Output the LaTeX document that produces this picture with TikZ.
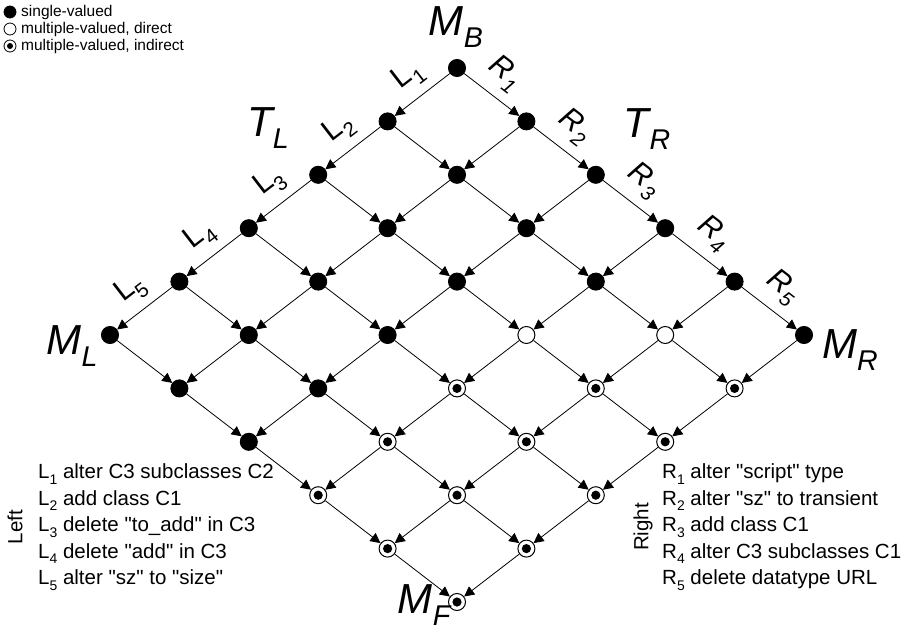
\documentclass[tikz,border=0pt]{standalone}
\usepackage{fontspec}
\setmainfont{Liberation Sans}
\usetikzlibrary{arrows.meta,calc}
\newcommand\lo[1]{\raisebox{-0.28em}{\scalebox{0.68}{#1}}}

\begin{document}
\begin{tikzpicture}[x=1pt,y=-1pt,
  state/.style={circle,draw,line width=1pt,minimum size=17pt,inner sep=0pt},
  kind0/.style={state,fill=black},
  kind1/.style={state,fill=white},
  kind2/.style={state,fill=white,path picture={\fill[black] (path picture bounding box.center) circle (4.6pt);}},
  trans/.style={-{Triangle[length=10pt,width=10pt]},line width=0.8pt},
  biglab/.style={font=\fontsize{42}{42}\selectfont\itshape,inner sep=0pt},
  leftlab/.style={font=\fontsize{30}{30}\selectfont,inner sep=0pt,rotate=37.6},
  rightlab/.style={font=\fontsize{30}{30}\selectfont\itshape,inner sep=0pt,rotate=-37.6},
  keytext/.style={font=\fontsize{15.5}{15.5}\selectfont,anchor=west,inner sep=0pt},
  listtext/.style={font=\fontsize{20.5}{20.5}\selectfont,anchor=west,inner sep=0pt}]
\useasboundingbox (0,0) rectangle (903,632);

% legend
\node[kind0,minimum size=12pt,line width=0.8pt] (k0) at (10,12) {};
\node[kind1,minimum size=12pt,line width=0.8pt] (k1) at (10,29) {};
\node[kind2,minimum size=12pt,line width=0.8pt,path picture={\fill[black] (path picture bounding box.center) circle (3pt);}] (k2) at (10,46) {};
\node[keytext] (k0t) at (21,12) {single-valued};
\node[keytext] (k1t) at (21,29) {multiple-valued, direct};
\node[keytext] (k2t) at (21,46) {multiple-valued, indirect};

% lattice of versions
\foreach \i in {0,...,5}
  \foreach \j in {0,...,5}{
    \pgfmathtruncatemacro\k{(\i+\j<5)?0:((\i+\j==5)?((\j==3||\j==4)?1:0):((\j>2)?2:0))}
    \node[kind\k] (n\i\j) at ({457+69.4*(\j-\i)},{68+53.4*(\i+\j)}) {};
  }

\foreach \i in {0,...,5}
  \foreach \j in {0,...,5}{
    \pgfmathtruncatemacro\ii{\i+1}
    \pgfmathtruncatemacro\jj{\j+1}
    \ifnum\i<5 \draw[trans] (n\i\j) -- (n\ii\j);\fi
    \ifnum\j<5 \draw[trans] (n\i\j) -- (n\i\jj);\fi
  }

% edge labels
\foreach \k [evaluate=\k as \p using int(\k-1)] in {1,...,5}{
  \node[leftlab] (l\k) at ($(n\p0)!0.5!(n\k0)+(-14,-19)$) {L\lo{\k}};
  \node[rightlab] (r\k) at ($(n0\p)!0.5!(n0\k)+(13,-21)$) {R\lo{\k}};
}

\node[biglab] (mb) at (456,27) {M\lo{B}};
\node[biglab] (ml) at (72,346) {M\lo{L}};
\node[biglab] (mr) at (850,350) {M\lo{R}};
\node[biglab] (mf) at (424,605) {M\lo{F}};
\node[biglab] (tl) at (268,128) {T\lo{L}};
\node[biglab] (tr) at (647,129) {T\lo{R}};

% change lists
\node[font=\fontsize{20.5}{20.5}\selectfont,rotate=90,inner sep=0pt] (lefthead) at (15,527) {Left};
\node[listtext] (lt1) at (38,474) {L\lo{1} alter C3 subclasses C2};
\node[listtext] (lt2) at (38,500.5) {L\lo{2} add class C1};
\node[listtext] (lt3) at (38,527) {L\lo{3} delete \textquotedbl to\_add\textquotedbl{} in C3};
\node[listtext] (lt4) at (38,553.5) {L\lo{4} delete \textquotedbl add\textquotedbl{} in C3};
\node[listtext] (lt5) at (38,580) {L\lo{5} alter \textquotedbl sz\textquotedbl{} to \textquotedbl size\textquotedbl};

\node[font=\fontsize{20.5}{20.5}\selectfont,rotate=90,inner sep=0pt] (righthead) at (643,527) {Right};
\node[listtext] (rt1) at (662,474) {R\lo{1} alter \textquotedbl script\textquotedbl{} type};
\node[listtext] (rt2) at (662,500.5) {R\lo{2} alter \textquotedbl sz\textquotedbl{} to transient};
\node[listtext] (rt3) at (662,527) {R\lo{3} add class C1};
\node[listtext] (rt4) at (662,553.5) {R\lo{4} alter C3 subclasses C1};
\node[listtext] (rt5) at (662,580) {R\lo{5} delete datatype URL};
\end{tikzpicture}
\end{document}
